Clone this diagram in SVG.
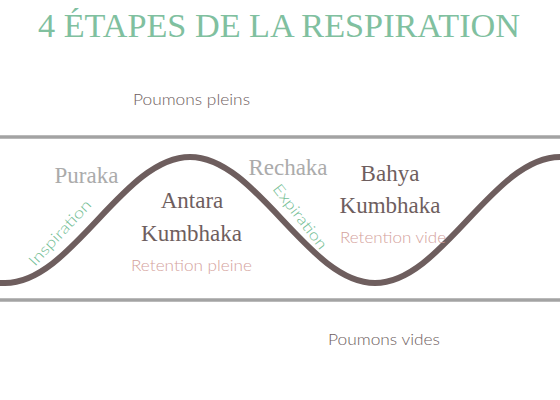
<svg xmlns="http://www.w3.org/2000/svg" width="560" height="400" viewBox="0 0 560 400">
<style>
.serif{font-family:"Liberation Serif","DejaVu Serif",serif;font-size:23px}
.sans{font-family:Lato,"Open Sans","Liberation Sans",sans-serif;font-size:15px;font-weight:300}
.dark{fill:#6e5e5e}
.light{fill:#ababab}
.pink{fill:#d4a29c}
.green{fill:#72bd93}
.rule{stroke:#a3a3a3;stroke-width:3.5;fill:none}
</style>
<rect width="560" height="400" fill="#ffffff"/>
<text id="title" x="38" y="37" textLength="482" lengthAdjust="spacingAndGlyphs" style="font-family:'Liberation Serif','DejaVu Serif',serif;font-size:33px;fill:#80c09f">4 ÉTAPES DE LA RESPIRATION</text>
<g id="connectors">
<line class="rule" x1="0" y1="137" x2="560" y2="137"/>
<line class="rule" x1="0" y1="300" x2="560" y2="300"/>
<path d="M-10,283 L5,283 C72,283 123,157 190,157 C257,157 308,283 375,283 C442,283 493,157 560,157 L575,157" fill="none" stroke="#6e5e5e" stroke-width="6"/>
</g>
<g id="poumons-pleins"><text class="sans dark" x="133" y="105" textLength="117" lengthAdjust="spacingAndGlyphs">Poumons pleins</text></g>
<g id="poumons-vides"><text class="sans dark" x="328" y="345" textLength="112" lengthAdjust="spacingAndGlyphs">Poumons vides</text></g>
<g id="puraka"><text class="serif light" x="86.5" y="183" text-anchor="middle">Puraka</text></g>
<g id="inspiration"><text class="sans green" transform="translate(35,267) rotate(-47)" x="0" y="0" textLength="84" lengthAdjust="spacingAndGlyphs">Inspiration</text></g>
<g id="antara-kumbhaka">
<text class="serif dark" x="192" y="208" text-anchor="middle">Antara</text>
<text class="serif dark" x="191.5" y="241" text-anchor="middle">Kumbhaka</text>
<text class="sans pink" x="131" y="271" textLength="121" lengthAdjust="spacingAndGlyphs">Retention pleine</text>
</g>
<g id="rechaka"><text class="serif light" x="288" y="175" text-anchor="middle">Rechaka</text></g>
<g id="expiration"><text class="sans green" transform="translate(272,189) rotate(52)" x="0" y="0" textLength="78" lengthAdjust="spacingAndGlyphs">Expiration</text></g>
<g id="bahya-kumbhaka">
<text class="serif dark" x="390" y="181" text-anchor="middle">Bahya</text>
<text class="serif dark" x="390" y="213" text-anchor="middle">Kumbhaka</text>
<text class="sans pink" x="340" y="243" textLength="106" lengthAdjust="spacingAndGlyphs">Retention vide</text>
</g>
</svg>
